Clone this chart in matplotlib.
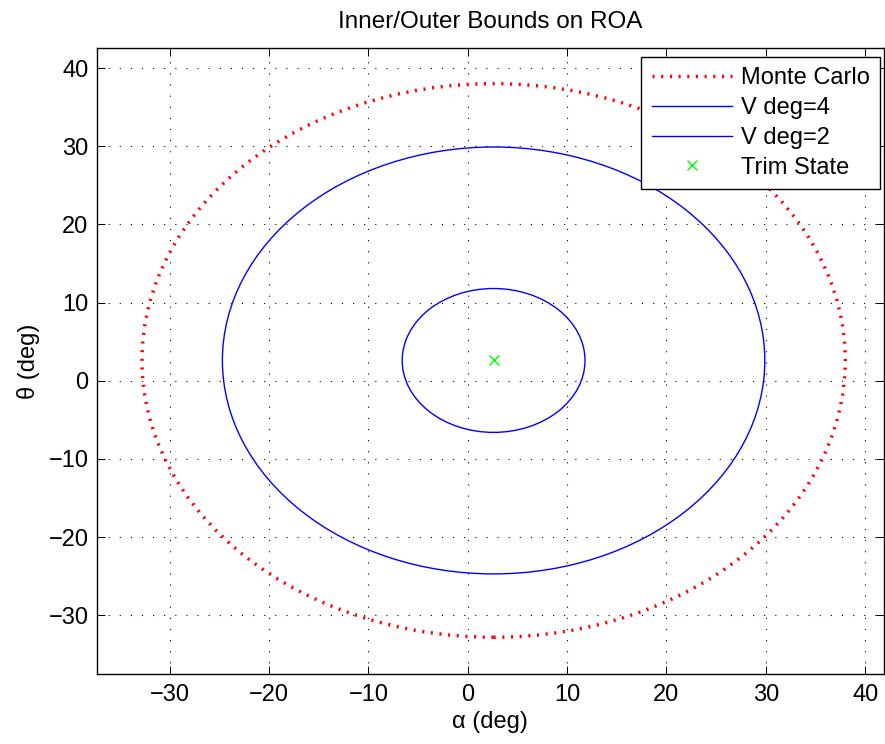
import matplotlib
matplotlib.use("Agg")
import matplotlib.pyplot as plt
from matplotlib.patches import Ellipse
from matplotlib.lines import Line2D

# boundary curves (all roughly circles about the trim point)
curve_names = ["Monte Carlo", "V deg=4", "V deg=2"]
center_alpha = [2.6, 2.6, 2.6]
center_theta = [2.6, 2.6, 2.6]
radius_alpha = [35.4, 27.3, 9.2]
radius_theta = [35.4, 27.3, 9.2]

trim_alpha = [2.6]
trim_theta = [2.6]

xticks = [-30, -20, -10, 0, 10, 20, 30, 40]
yticks = [-30, -20, -10, 0, 10, 20, 30, 40]

plt.rcParams["font.family"] = ["Liberation Sans", "DejaVu Sans"]
plt.rcParams["font.size"] = 17

fig = plt.figure(figsize=(8.85, 7.44), dpi=100)
ax = fig.add_axes([0.1093, 0.0941, 0.8896, 0.8418])

mc_style = dict(color="red", linewidth=2.5, linestyle=(0, (0.6, 1.9)))
blue_style = dict(color="blue", linewidth=1.0)
styles = [mc_style, blue_style, blue_style]

for i in range(len(curve_names)):
    e = Ellipse((center_alpha[i], center_theta[i]),
                2 * radius_alpha[i], 2 * radius_theta[i],
                fill=False, zorder=3, **styles[i])
    e.set_capstyle("butt")
    ax.add_patch(e)

ax.plot(trim_alpha, trim_theta, "x", color=(0, 1, 0), markersize=7.5,
        markeredgewidth=1.0, zorder=4)

ax.set_xlim(-37.35, 41.9)
ax.set_ylim(-37.5, 42.6)
ax.set_xticks(xticks)
ax.set_yticks(yticks)
ax.set_xticklabels([f"\u2212{abs(v)}" if v < 0 else str(v) for v in xticks])
ax.set_yticklabels([f"\u2212{abs(v)}" if v < 0 else str(v) for v in yticks])
ax.tick_params(direction="in", length=5.5, width=0.7, top=True, right=True,
               labelsize=17)
ax.tick_params(axis="x", pad=7)
ax.tick_params(axis="y", pad=6)
for s in ax.spines.values():
    s.set_linewidth(1.0)
ax.grid(True, color="k", linewidth=0.8, linestyle=(0, (1, 9)))
ax.set_axisbelow(True)

ax.set_title("Inner/Outer Bounds on ROA", fontsize=17.5, pad=14)
ax.set_xlabel("\u03b1 (deg)", fontsize=17, labelpad=4)
ax.set_ylabel("\u03b8 (deg)", fontsize=17, labelpad=6)

handles = [
    Line2D([], [], solid_capstyle="butt", dash_capstyle="butt", **mc_style),
    Line2D([], [], **blue_style),
    Line2D([], [], **blue_style),
    Line2D([], [], linestyle="none", marker="x", color=(0, 1, 0),
           markersize=7.5, markeredgewidth=1.0),
]
leg = ax.legend(handles, curve_names + ["Trim State"], loc="upper right",
                bbox_to_anchor=(1 - 4 / 787, 1 - 9 / 626), borderaxespad=0,
                fancybox=False, framealpha=1, edgecolor="k", fontsize=17,
                handlelength=3.4, handletextpad=0.35, labelspacing=0.33,
                borderpad=0.45)
leg.get_frame().set_linewidth(1.0)

fig.savefig("out.png", dpi=100)
